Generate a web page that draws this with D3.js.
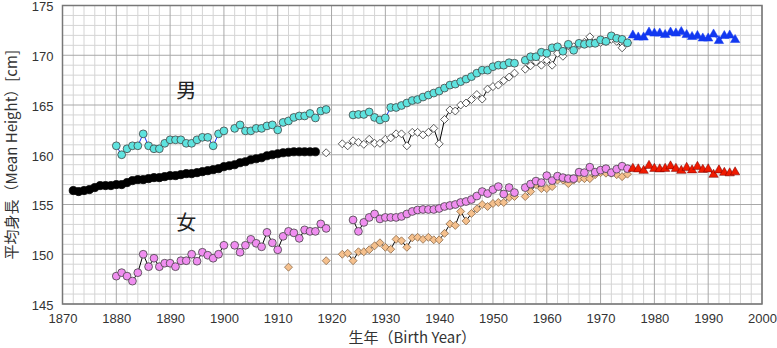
<!DOCTYPE html>
<html><head><meta charset="utf-8">
<script src="https://cdn.jsdelivr.net/npm/d3@7"></script>
<style>body{margin:0;background:#fff}svg{display:block}</style>
</head><body><svg id="c" width="777" height="348"></svg>
<script>
// ---- data ----
const xTicks = [1870,1880,1890,1900,1910,1920,1930,1940,1950,1960,1970,1980,1990,2000];
const yTicks = [145,150,155,160,165,170,175];

const menBlackYears = d3.range(1872,1918);
const menBlack = [156.4,156.3,156.4,156.5,156.7,156.9,156.9,156.9,157.0,157.0,157.2,157.4,157.5,157.5,157.6,157.7,157.7,157.8,157.9,157.9,158.0,158.1,158.1,158.2,158.3,158.4,158.5,158.6,158.8,158.9,159.0,159.2,159.3,159.5,159.6,159.7,159.9,160.0,160.1,160.2,160.25,160.3,160.3,160.3,160.3,160.3];

const menCyanYears = [1880,1881,1882,1883,1884,1885,1886,1887,1888,1889,1890,1891,1892,1893,1894,1895,1896,1897,1898,1899,1900,1901,1902,1903,1904,1905,1906,1907,1908,1909,1910,1911,1912,1913,1914,1915,1916,1917,1918,1919,1920,1921,1922,1923,1924,1925,1926,1927,1928,1929,1930,1931,1932,1933,1934,1935,1936,1937,1938,1939,1940,1941,1942,1943,1944,1945,1946,1947,1948,1949,1950,1951,1952,1953,1954,1955,1956,1957,1958,1959,1960,1961,1962,1963,1964,1965,1966,1967,1968,1969,1970,1971,1972,1973,1974,1975];
const menCyan = [160.9,160.0,160.6,160.9,160.9,162.1,160.9,160.6,160.6,161.15,161.5,161.5,161.5,161.15,161.15,161.5,161.75,161.75,160.9,162.1,162.4,null,162.65,163.0,162.4,162.4,162.65,162.65,162.9,163.0,162.5,163.25,163.4,163.75,163.9,163.9,164.15,163.7,164.4,164.55,null,null,null,null,164.0,164.05,164.05,164.3,163.75,163.5,163.7,164.75,164.75,164.95,165.2,165.45,165.55,165.8,166.0,166.2,166.4,166.7,167.0,167.1,167.35,167.6,167.85,168.2,168.5,168.5,168.85,169.0,169.0,169.25,169.2,null,169.5,169.85,169.85,170.3,170.2,170.75,170.85,170.4,171.1,170.5,171.2,171.1,171.2,171.2,171.55,171.4,171.95,171.7,171.6,171.25];

const menWhiteYears = [1919,1920,1921,1922,1923,1924,1925,1926,1927,1928,1929,1930,1931,1932,1933,1934,1935,1936,1937,1938,1939,1940,1941,1942,1943,1944,1945,1946,1947,1948,1949,1950,1951,1952,1953,1954,1955,1956,1957,1958,1959,1960,1961,1962,1963,1964,1965,1966,1967,1968,1969,1970,1971,1972,1973,1974,1975];
const menWhite = [160.2,null,null,161.1,160.9,161.4,161.25,161.05,161.55,161.15,161.15,161.55,161.7,162.1,162.1,160.9,162.25,162.25,162.0,162.25,162.65,161.1,163.55,164.5,164.4,165.0,165.2,165.55,166.05,165.6,166.6,166.85,167.0,167.45,167.8,168.2,null,168.6,168.95,169.35,169.0,169.5,169.0,170.2,169.9,170.95,170.85,171.0,171.3,171.85,171.25,171.3,171.4,171.6,171.4,170.75,171.25];

const menTriYears = d3.range(1976,1996);
const menTri = [172.0,171.8,171.8,172.3,172.2,172.2,172.05,172.3,172.2,172.35,172.05,171.85,171.95,171.7,171.7,172.1,171.45,171.95,172.0,171.55];

const womenPinkYears = [1880,1881,1882,1883,1884,1885,1886,1887,1888,1889,1890,1891,1892,1893,1894,1895,1896,1897,1898,1899,1900,1901,1902,1903,1904,1905,1906,1907,1908,1909,1910,1911,1912,1913,1914,1915,1916,1917,1918,1919,1920,1921,1922,1923,1924,1925,1926,1927,1928,1929,1930,1931,1932,1933,1934,1935,1936,1937,1938,1939,1940,1941,1942,1943,1944,1945,1946,1947,1948,1949,1950,1951,1952,1953,1954,1955,1956,1957,1958,1959,1960,1961,1962,1963,1964,1965,1966,1967,1968,1969,1970,1971,1972,1973,1974,1975];
const womenPink = [147.8,148.15,147.8,147.3,148.15,150.0,148.75,149.6,148.75,149.1,149.1,148.75,149.35,149.35,150.0,149.3,150.2,149.9,149.6,150.0,150.9,null,150.9,150.2,150.9,151.5,151.1,150.75,152.2,151.15,150.45,151.8,152.3,152.15,151.6,152.45,152.3,152.3,153.05,152.6,null,null,null,null,153.45,152.3,153.2,153.7,154.05,153.55,153.7,153.7,153.7,153.8,154.05,154.3,154.45,154.5,154.5,154.5,154.6,154.8,154.9,155.0,155.2,155.3,155.5,155.85,156.3,156.1,156.5,156.8,156.05,156.7,156.2,null,156.7,157.05,157.35,157.2,157.9,157.4,157.85,157.7,157.6,157.6,158.25,158.2,158.75,158.25,158.45,158.6,158.2,158.55,158.85,158.6];

const womenTanYears = [1912,1913,1914,1915,1916,1917,1918,1919,1920,1921,1922,1923,1924,1925,1926,1927,1928,1929,1930,1931,1932,1933,1934,1935,1936,1937,1938,1939,1940,1941,1942,1943,1944,1945,1946,1947,1948,1949,1950,1951,1952,1953,1954,1955,1956,1957,1958,1959,1960,1961,1962,1963,1964,1965,1966,1967,1968,1969,1970,1971,1972,1973,1974,1975];
const womenTan = [148.7,null,null,null,null,null,null,149.35,null,null,150.0,150.1,149.35,150.25,150.25,150.45,150.85,151.15,150.7,150.5,151.5,151.35,150.7,151.65,151.7,151.5,151.7,151.45,151.45,152.1,153.05,152.9,154.3,153.35,154.1,154.55,155.0,154.8,155.1,155.2,155.2,155.7,155.8,null,155.8,156.3,157.0,156.6,156.6,156.8,157.45,157.45,157.1,157.45,157.6,157.6,157.6,158.0,158.2,158.15,158.15,158.0,157.8,158.05];

const womenTriYears = d3.range(1976,1996);
const womenTri = [158.6,158.55,158.4,158.9,158.6,158.55,158.6,158.85,158.6,158.4,158.7,158.45,158.8,158.5,158.55,158.0,158.45,158.2,158.15,158.25];

const labelMen = "男", labelWomen = "女";
const xTitle = "生年（Birth Year）";
const yTitle = "平均身長（Mean Height）[cm]";

// ---- chart ----
const svg = d3.select("#c");
const L = 62.5, R = 762, T = 5.5, B = 304;
const x = d3.scaleLinear().domain([1870,2000]).range([L,R]);
const y = d3.scaleLinear().domain([145,175]).range([B,T]);

const g = svg.append("g");
g.selectAll(".vx").data(d3.range(1872,2000,2).filter(v=>v%10)).enter().append("line")
 .attr("x1",d=>x(d)).attr("x2",d=>x(d)).attr("y1",T).attr("y2",B)
 .attr("stroke","#d4d4d4").attr("stroke-width",1);
g.selectAll(".hy").data(d3.range(146,175,1).filter(v=>v%5)).enter().append("line")
 .attr("y1",d=>y(d)).attr("y2",d=>y(d)).attr("x1",L).attr("x2",R)
 .attr("stroke","#d4d4d4").attr("stroke-width",1);
g.selectAll(".mx").data(xTicks).enter().append("line")
 .attr("x1",d=>x(d)).attr("x2",d=>x(d)).attr("y1",T).attr("y2",B)
 .attr("stroke","#a8a8a8").attr("stroke-width",1);
g.selectAll(".my").data(yTicks).enter().append("line")
 .attr("y1",d=>y(d)).attr("y2",d=>y(d)).attr("x1",L).attr("x2",R)
 .attr("stroke","#a8a8a8").attr("stroke-width",1);

const xa = svg.append("g").attr("transform",`translate(0,${B})`)
 .call(d3.axisBottom(x).tickValues(xTicks).tickFormat(d3.format("d")).tickSize(0).tickPadding(10));
const ya = svg.append("g").attr("transform",`translate(${L},0)`)
 .call(d3.axisLeft(y).tickValues(yTicks).tickSize(0).tickPadding(9));
[xa,ya].forEach(a=>{a.select(".domain").remove();
 a.selectAll("text").attr("font-family","Liberation Sans, Arial, sans-serif").attr("font-size",13).attr("fill","#333");});
ya.selectAll("text").attr("dy","0.42em");

svg.append("rect").attr("x",L).attr("y",T).attr("width",R-L).attr("height",B-T)
 .attr("fill","none").attr("stroke","#777").attr("stroke-width",1.5);

function series(years, vals, o){
  const pts = years.map((yr,i)=>({yr, v: vals[i]}));
  const line = d3.line().defined(d=>d.v!=null).x(d=>x(d.yr)).y(d=>y(d.v));
  if(o.line) svg.append("path").datum(pts).attr("d",line).attr("fill","none")
    .attr("stroke",o.line).attr("stroke-width",o.lw||1);
  const p = pts.filter(d=>d.v!=null);
  const sym = d3.symbol().type(o.sym).size(o.size);
  svg.append("g").selectAll("path").data(p).enter().append("path")
    .attr("transform",d=>`translate(${x(d.yr)},${y(d.v)})`)
    .attr("d",sym).attr("fill",o.fill).attr("stroke",o.stroke).attr("stroke-width",o.sw||0.8);
}

const diamond = {draw(ctx,size){const r=Math.sqrt(size/2);ctx.moveTo(0,-r);ctx.lineTo(r,0);ctx.lineTo(0,r);ctx.lineTo(-r,0);ctx.closePath();}};

series(menBlackYears, menBlack, {line:"#000", sym:d3.symbolCircle, size:52, fill:"#000", stroke:"#000", lw:1.5});
series(menWhiteYears, menWhite, {line:"#000", sym:diamond, size:32, fill:"#fff", stroke:"#333"});
series(menCyanYears, menCyan, {line:"#1030ff", sym:d3.symbolCircle, size:48, fill:"#5ee3df", stroke:"#444"});
series(menTriYears, menTri, {line:"#1030ff", sym:d3.symbolTriangle, size:38, fill:"#1238f0", stroke:"#1238f0", sw:0.5});
series(womenTanYears, womenTan, {line:"#000", sym:diamond, size:32, fill:"#f5c08d", stroke:"#8a6a4a"});
series(womenPinkYears, womenPink, {line:"#000", sym:d3.symbolCircle, size:48, fill:"#f08ef0", stroke:"#444"});
series(womenTriYears, womenTri, {line:"#e01010", sym:d3.symbolTriangle, size:38, fill:"#f01a00", stroke:"#700", sw:0.5});

svg.append("text").attr("x",x(1893)).attr("y",y(166.6)).attr("text-anchor","middle").attr("dominant-baseline","central")
 .attr("font-family","Noto Sans CJK JP").attr("font-size",20).attr("fill","#222").text(labelMen);
svg.append("text").attr("x",x(1893)).attr("y",y(153.3)).attr("text-anchor","middle").attr("dominant-baseline","central")
 .attr("font-family","Noto Sans CJK JP").attr("font-size",20).attr("fill","#222").text(labelWomen);

svg.append("text").attr("x",(L+R)/2).attr("y",343).attr("text-anchor","middle")
 .attr("font-family","Noto Sans CJK JP").attr("font-size",15).attr("fill","#333").text(xTitle);
svg.append("text").attr("transform",`translate(17,${(T+B)/2}) rotate(-90)`).attr("text-anchor","middle")
 .attr("font-family","Noto Sans CJK JP").attr("font-size",15).attr("fill","#333").text(yTitle);
</script></body></html>
